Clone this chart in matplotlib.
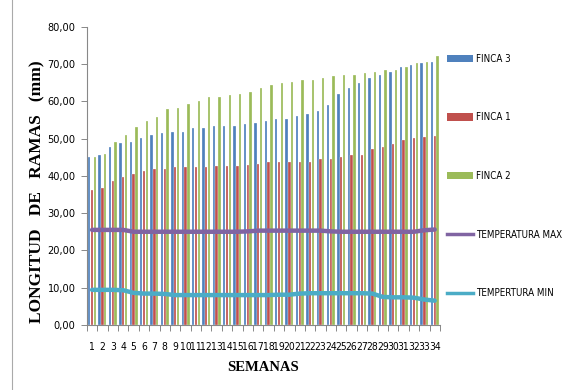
import matplotlib
matplotlib.use("Agg")
import matplotlib.pyplot as plt
from matplotlib.lines import Line2D
from matplotlib.patches import Patch
from matplotlib import font_manager
import numpy as np

semanas = list(range(1, 35))

finca3 = [45.2, 45.6, 47.8, 48.8, 49.1, 50.2, 51.1, 51.5, 51.9, 51.9,
          52.9, 52.9, 53.3, 53.3, 53.3, 53.9, 54.1, 54.8, 55.3, 55.3,
          56.0, 56.6, 57.5, 58.9, 62.0, 63.5, 64.9, 66.2, 67.1, 68.0,
          69.3, 69.8, 70.2, 70.7]
finca1 = [36.2, 36.7, 38.5, 39.6, 40.4, 41.3, 41.8, 41.8, 42.3, 42.3,
          42.3, 42.3, 42.7, 42.7, 42.7, 43.0, 43.1, 43.6, 43.6, 43.6,
          43.6, 43.6, 44.5, 44.5, 45.0, 45.5, 45.5, 47.3, 47.8, 48.6,
          49.6, 50.1, 50.5, 50.8]
finca2 = [45.0, 45.9, 49.2, 51.0, 53.0, 54.8, 55.7, 57.9, 58.3, 59.3,
          60.2, 61.1, 61.1, 61.7, 62.0, 62.6, 63.5, 64.3, 64.9, 65.3,
          65.8, 65.8, 66.2, 66.7, 67.2, 67.2, 67.6, 68.0, 68.5, 68.5,
          69.3, 70.2, 70.7, 72.2]
temp_max = [25.5, 25.5, 25.5, 25.5, 25.0, 25.0, 25.0, 25.0, 25.0, 25.0,
            25.0, 25.0, 25.0, 25.0, 25.0, 25.1, 25.3, 25.3, 25.3, 25.3,
            25.3, 25.3, 25.3, 25.1, 25.0, 25.0, 25.0, 25.0, 25.0, 25.0,
            25.0, 25.0, 25.4, 25.6]
temp_min = [9.4, 9.4, 9.4, 9.3, 8.6, 8.4, 8.4, 8.3, 8.0, 8.0,
            8.0, 8.0, 8.0, 8.0, 8.0, 8.0, 8.0, 8.0, 8.1, 8.1,
            8.4, 8.5, 8.5, 8.5, 8.5, 8.5, 8.5, 8.4, 7.5, 7.4,
            7.4, 7.3, 6.8, 6.5]

C_BLUE = "#4F81BD"
C_RED = "#C0504D"
C_GREEN = "#9BBB59"
C_PURPLE = "#8064A2"
C_CYAN = "#4BACC6"

# narrow sans for ticks and legend
available = {f.name for f in font_manager.fontManager.ttflist}
cond_files = [f for f in font_manager.fontManager.ttflist
              if f.name == "DejaVu Sans" and f.stretch == "condensed"
              and f.weight in (400, "normal") and f.style == "normal"]
if "Liberation Sans Narrow" in available:
    narrow = font_manager.FontProperties(family="Liberation Sans Narrow")
elif cond_files:
    narrow = font_manager.FontProperties(fname=cond_files[0].fname)
else:
    narrow = font_manager.FontProperties(family="DejaVu Sans")
serif = ["Liberation Serif", "DejaVu Serif"]


def nfp(size):
    p = narrow.copy()
    p.set_size(size)
    return p


fig = plt.figure(figsize=(5.64, 3.9), dpi=100)
ax = fig.add_axes([0.154, 0.167, 0.626, 0.764])

x = np.arange(len(semanas))
w = 0.23
off = 0.27
ax.bar(x - off, finca3, w, color=C_BLUE, edgecolor="white", linewidth=0.2, zorder=2)
ax.bar(x, finca1, w, color=C_RED, edgecolor="white", linewidth=0.2, zorder=2)
ax.bar(x + off, finca2, w, color=C_GREEN, edgecolor="white", linewidth=0.2, zorder=2)
ax.plot(x, temp_max, color=C_PURPLE, lw=3.2, solid_capstyle="round", zorder=3)
ax.plot(x, temp_min, color=C_CYAN, lw=3.2, solid_capstyle="round", zorder=3)

ax.set_xlim(-0.5, len(semanas) - 0.5)
ax.set_ylim(0, 80)
ax.set_yticks(np.arange(0, 81, 10))
ax.set_yticklabels([f"{v:.2f}".replace(".", ",") for v in range(0, 81, 10)],
                   fontproperties=nfp(7.8))
ax.set_xticks(x)
ax.set_xticklabels([str(s) for s in semanas], fontproperties=nfp(7.4))
ax.set_xticks(np.arange(-0.5, len(semanas), 1), minor=True)
ax.tick_params(axis="x", which="major", length=0, pad=12)
ax.tick_params(axis="x", which="minor", length=4, color="#888888", width=0.7)
ax.tick_params(axis="y", length=4, color="#888888", width=0.7, pad=4)

for s in ["top", "right"]:
    ax.spines[s].set_visible(False)
for s in ["left", "bottom"]:
    ax.spines[s].set_color("#888888")
    ax.spines[s].set_linewidth(0.8)

ax.set_xlabel("SEMANAS", family=serif, fontweight="bold", fontsize=10.5, labelpad=7)
ax.set_ylabel("LONGITUD   DE   RAMAS   (mm)", family=serif, fontweight="bold",
              fontsize=12.5)
ax.yaxis.set_label_coords(-0.118, 0.446)

handles = [
    Patch(facecolor=C_BLUE, edgecolor="none"),
    Patch(facecolor=C_RED, edgecolor="none"),
    Patch(facecolor=C_GREEN, edgecolor="none"),
    Line2D([], [], color=C_PURPLE, lw=2.5),
    Line2D([], [], color=C_CYAN, lw=2.5),
]
labels = ["FINCA 3", "FINCA 1", "FINCA 2", "TEMPERATURA MAX", "TEMPERTURA MIN"]
fig.legend(handles, labels, loc="upper left", bbox_to_anchor=(0.786, 0.872),
           frameon=False, prop=nfp(7.0),
           labelspacing=5.0, handlelength=2.7, handleheight=0.8,
           handletextpad=0.3, borderaxespad=0)

fig.add_artist(Line2D([0.021, 0.021], [0.0, 1.0], transform=fig.transFigure,
                      color="#AAAAAA", lw=0.8))

fig.savefig("out.png", dpi=100)
